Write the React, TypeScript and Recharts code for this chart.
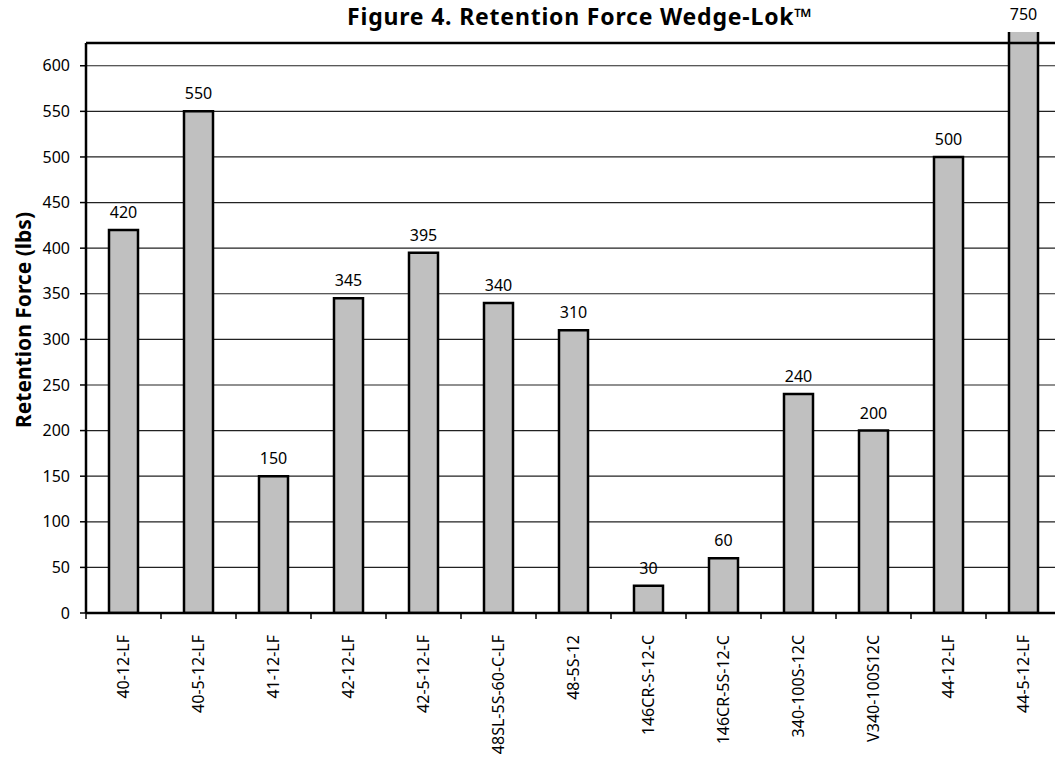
import React from 'react';
import { BarChart, Bar, XAxis, YAxis, CartesianGrid, ReferenceLine, LabelList } from 'recharts';

const categories = [
    '40-12-LF',
    '40-5-12-LF',
    '41-12-LF',
    '42-12-LF',
    '42-5-12-LF',
    '48SL-5S-60-C-LF',
    '48-5S-12',
    '146CR-S-12-C',
    '146CR-5S-12-C',
    '340-100S-12C',
    'V340-100S12C',
    '44-12-LF',
    '44-5-12-LF',
];
const retentionForce = [420, 550, 150, 345, 395, 340, 310, 30, 60, 240, 200, 500, 750];
const yTicks = [0, 50, 100, 150, 200, 250, 300, 350, 400, 450, 500, 550, 600];
const frameTop = 625; // top border of the plot frame
const yMax = 637; // bars above the frame are cut here

const data = categories.map((name, i) => ({ name, force: retentionForce[i] }));

const FONT = '"Noto Sans", "DejaVu Sans", sans-serif';
const PLOT_TOP = 32;

const CategoryTick = (props: any) => {
    const { x, y, payload } = props;
    const half = payload?.offset ?? 37.5;
    const ty = y + 22;
    return (
        <g>
            <line x1={x - half} x2={x - half} y1={y} y2={y + 6} stroke="#000" strokeWidth={1.5} />
            <text
                x={x}
                y={ty}
                transform={`rotate(-90 ${x} ${ty})`}
                textAnchor="end"
                dy="0.35em"
                fontSize={16}
                fontFamily={FONT}
                fill="#000"
            >
                {payload.value}
            </text>
        </g>
    );
};

const ValueLabel = (props: any) => {
    const { x, y, width, value } = props;
    const top = Math.max(Number(y), PLOT_TOP);
    return (
        <text x={Number(x) + Number(width) / 2} y={top - 12} textAnchor="middle" fontSize={16} fontFamily={FONT} fill="#000">
            {value}
        </text>
    );
};

export default function App() {
    return (
        <div style={{ position: 'absolute', left: 0, top: 0, width: 1055, height: 760, overflow: 'hidden', background: '#fff' }}>
            <BarChart
                width={1070}
                height={760}
                data={data}
                margin={{ top: PLOT_TOP, right: 9, left: 0, bottom: 0 }}
                barCategoryGap={0}
            >
                <CartesianGrid vertical={false} horizontalValues={yTicks} stroke="#222" strokeWidth={1.2} />
                <XAxis
                    dataKey="name"
                    height={147}
                    interval={0}
                    tickLine={false}
                    tickSize={0}
                    tickMargin={0}
                    axisLine={{ stroke: '#000', strokeWidth: 2.5 }}
                    tick={<CategoryTick />}
                />
                <XAxis xAxisId="frame" type="number" domain={[0, 13]} hide />
                <YAxis
                    width={86}
                    domain={[0, yMax]}
                    ticks={yTicks}
                    interval={0}
                    allowDataOverflow
                    axisLine={false}
                    tickSize={6}
                    tickMargin={10}
                    tickLine={{ stroke: '#000', strokeWidth: 1.5 }}
                    tick={{ fill: '#000', fontSize: 16, fontFamily: FONT }}
                    label={{
                        content: () => (
                            <text
                                x={23}
                                y={320}
                                transform="rotate(-90 23 320)"
                                textAnchor="middle"
                                dominantBaseline="central"
                                fontSize={21}
                                fontWeight="bold"
                                fontFamily={FONT}
                                fill="#000"
                            >
                                Retention Force (lbs)
                            </text>
                        ),
                    }}
                />
                <ReferenceLine y={frameTop} stroke="#000" strokeWidth={2.5} />
                <ReferenceLine
                    xAxisId="frame"
                    segment={[{ x: 0, y: 0 }, { x: 0, y: frameTop }]}
                    stroke="#000"
                    strokeWidth={2.5}
                />
                <Bar dataKey="force" barSize={29} fill="#c0c0c0" stroke="#000" strokeWidth={2.5} isAnimationActive={false}>
                    <LabelList dataKey="force" content={<ValueLabel />} />
                </Bar>
            </BarChart>
            <svg width={1055} height={40} style={{ position: 'absolute', left: 0, top: 0, pointerEvents: 'none' }}>
                <text
                    x={580}
                    y={25}
                    textAnchor="middle"
                    fontSize={23}
                    fontWeight="bold"
                    letterSpacing={0.8}
                    fontFamily={FONT}
                    fill="#000"
                >
                    Figure 4. Retention Force Wedge-Lok™
                </text>
            </svg>
        </div>
    );
}
